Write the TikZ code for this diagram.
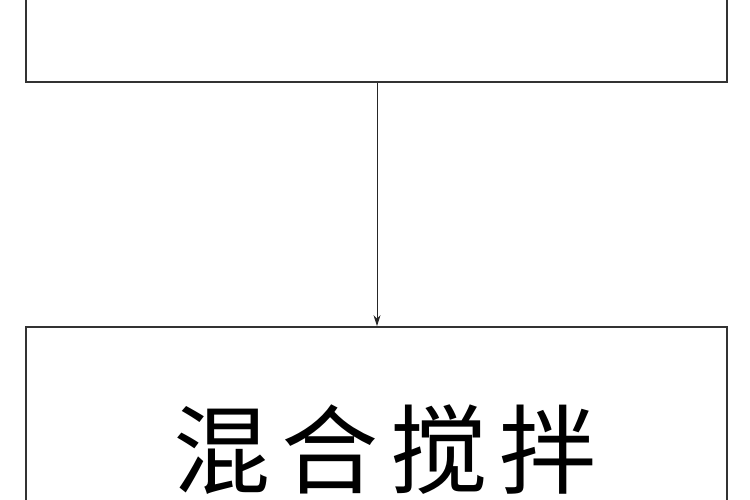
\documentclass[tikz,border=0pt]{standalone}
\usepackage{fontspec}
\newfontfamily\cjk{Noto Sans CJK SC}
\usetikzlibrary{arrows.meta}
\begin{document}
\begin{tikzpicture}[x=1pt,y=1pt,
  box/.style={draw=black!80,line width=1.8pt,rectangle,inner sep=0pt,minimum width=701pt},
  flow/.style={draw=black!85,line width=1pt,-{Stealth[length=11pt,width=7pt]}},
  bigtext/.style={font=\cjk\fontsize{97}{97}\selectfont,inner sep=0pt}]
\useasboundingbox (0,0) rectangle (750,-500);
\clip (0,0) rectangle (750,-500);
\fill[white] (0,0) rectangle (750,-500);
\node[box,minimum height=142pt] (topbox) at (376.5,-11) {};
\node[box,minimum height=243pt] (botbox) at (376.5,-448.5) {};
\node[bigtext] (mix) at (385,-450) {混\hspace{12pt}合\hspace{12pt}搅\hspace{12pt}拌};
\draw[flow] ([xshift=0.5pt]topbox.south) -- ([xshift=0.5pt]botbox.north);
\end{tikzpicture}
\end{document}
